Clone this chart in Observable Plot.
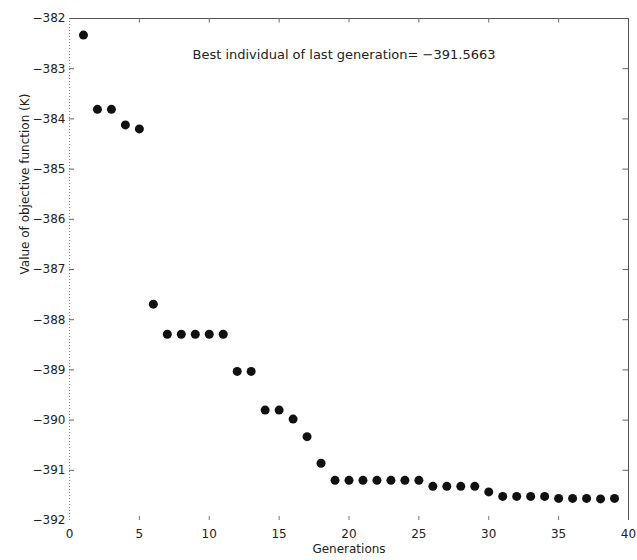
<!DOCTYPE html>
<html>
<head>
<meta charset="utf-8">
<script src="https://cdn.jsdelivr.net/npm/d3@7"></script>
<script src="https://cdn.jsdelivr.net/npm/@observablehq/plot@0.6"></script>
<style>
  body { margin: 0; background: #fff; }
  #chart svg { font-family: "DejaVu Sans", sans-serif; }
</style>
</head>
<body>
<div id="chart"></div>
<script>
const generations = [1,2,3,4,5,6,7,8,9,10,11,12,13,14,15,16,17,18,19,20,21,22,23,24,25,26,27,28,29,30,31,32,33,34,35,36,37,38,39];
const objectiveValues = [
  -382.33, -383.81, -383.81, -384.12, -384.20, -387.69,
  -388.29, -388.29, -388.29, -388.29, -388.29,
  -389.03, -389.03,
  -389.80, -389.80, -389.98, -390.33, -390.86,
  -391.20, -391.20, -391.20, -391.20, -391.20, -391.20, -391.20,
  -391.32, -391.32, -391.32, -391.32,
  -391.43,
  -391.52, -391.52, -391.52, -391.52,
  -391.56, -391.56, -391.56, -391.57, -391.56
];
const xTicks = [0, 5, 10, 15, 20, 25, 30, 35, 40];
const yTicks = [-392, -391, -390, -389, -388, -387, -386, -385, -384, -383, -382];
const annotation = "Best individual of last generation= \u2212391.5663";
const xLabel = "Generations";
const yLabel = "Value of objective function (K)";

const data = generations.map((g, i) => ({g, v: objectiveValues[i]}));
const fmt = d => String(d).replace("-", "\u2212");
const ink = "#222";
const axisColor = "#555";
const fontFamily = "'DejaVu Sans', sans-serif";

const chart = Plot.plot({
  width: 637,
  height: 560,
  marginLeft: 69,
  marginRight: 9,
  marginTop: 18,
  marginBottom: 40,
  style: {fontSize: "12px", fontFamily, color: ink, background: "#fff"},
  x: {domain: [0, 40]},
  y: {domain: [-392, -382]},
  marks: [
    // frame lines (top and right solid, left dotted)
    Plot.ruleY([-382], {stroke: axisColor, strokeWidth: 1}),
    Plot.ruleX([40], {stroke: axisColor, strokeWidth: 1}),
    Plot.ruleX([0], {stroke: "#888", strokeWidth: 1, strokeDasharray: "1,2"}),
    // inward tick marks
    Plot.ruleX(xTicks.slice(1, -1), {y1: -392, y2: -391.92, stroke: "#777"}),
    Plot.ruleX(xTicks.slice(1, -1), {y1: -382, y2: -382.09, stroke: "#666"}),
    Plot.ruleY(yTicks.slice(1, -1), {x1: 0, x2: 0.36, stroke: "#666"}),
    Plot.ruleY(yTicks.slice(1, -1), {x1: 39.6, x2: 40, stroke: "#666"}),
    // tick labels
    Plot.axisX({ticks: xTicks, anchor: "bottom", tickSize: 0, tickPadding: 9, tickFormat: fmt, label: null, fill: ink, fontSize: 12}),
    Plot.axisY({ticks: yTicks, anchor: "left", tickSize: 0, tickPadding: 4, tickFormat: fmt, label: null, fill: ink, fontSize: 12}),
    // axis titles
    Plot.text([xLabel], {frameAnchor: "bottom", dy: 32, text: d => d, fill: ink, fontSize: 12}),
    Plot.text([yLabel], {frameAnchor: "left", dx: -44, dy: 5, rotate: -90, text: d => d, fill: ink, fontSize: 12}),
    // annotation
    Plot.text([annotation], {x: 8.8, y: -382.73, text: d => d, textAnchor: "start", fill: ink, fontSize: 13}),
    // data points
    Plot.dot(data, {x: "g", y: "v", r: 4.5, fill: "#111", stroke: "none"})
  ]
});
document.getElementById("chart").appendChild(chart);
</script>
</body>
</html>
